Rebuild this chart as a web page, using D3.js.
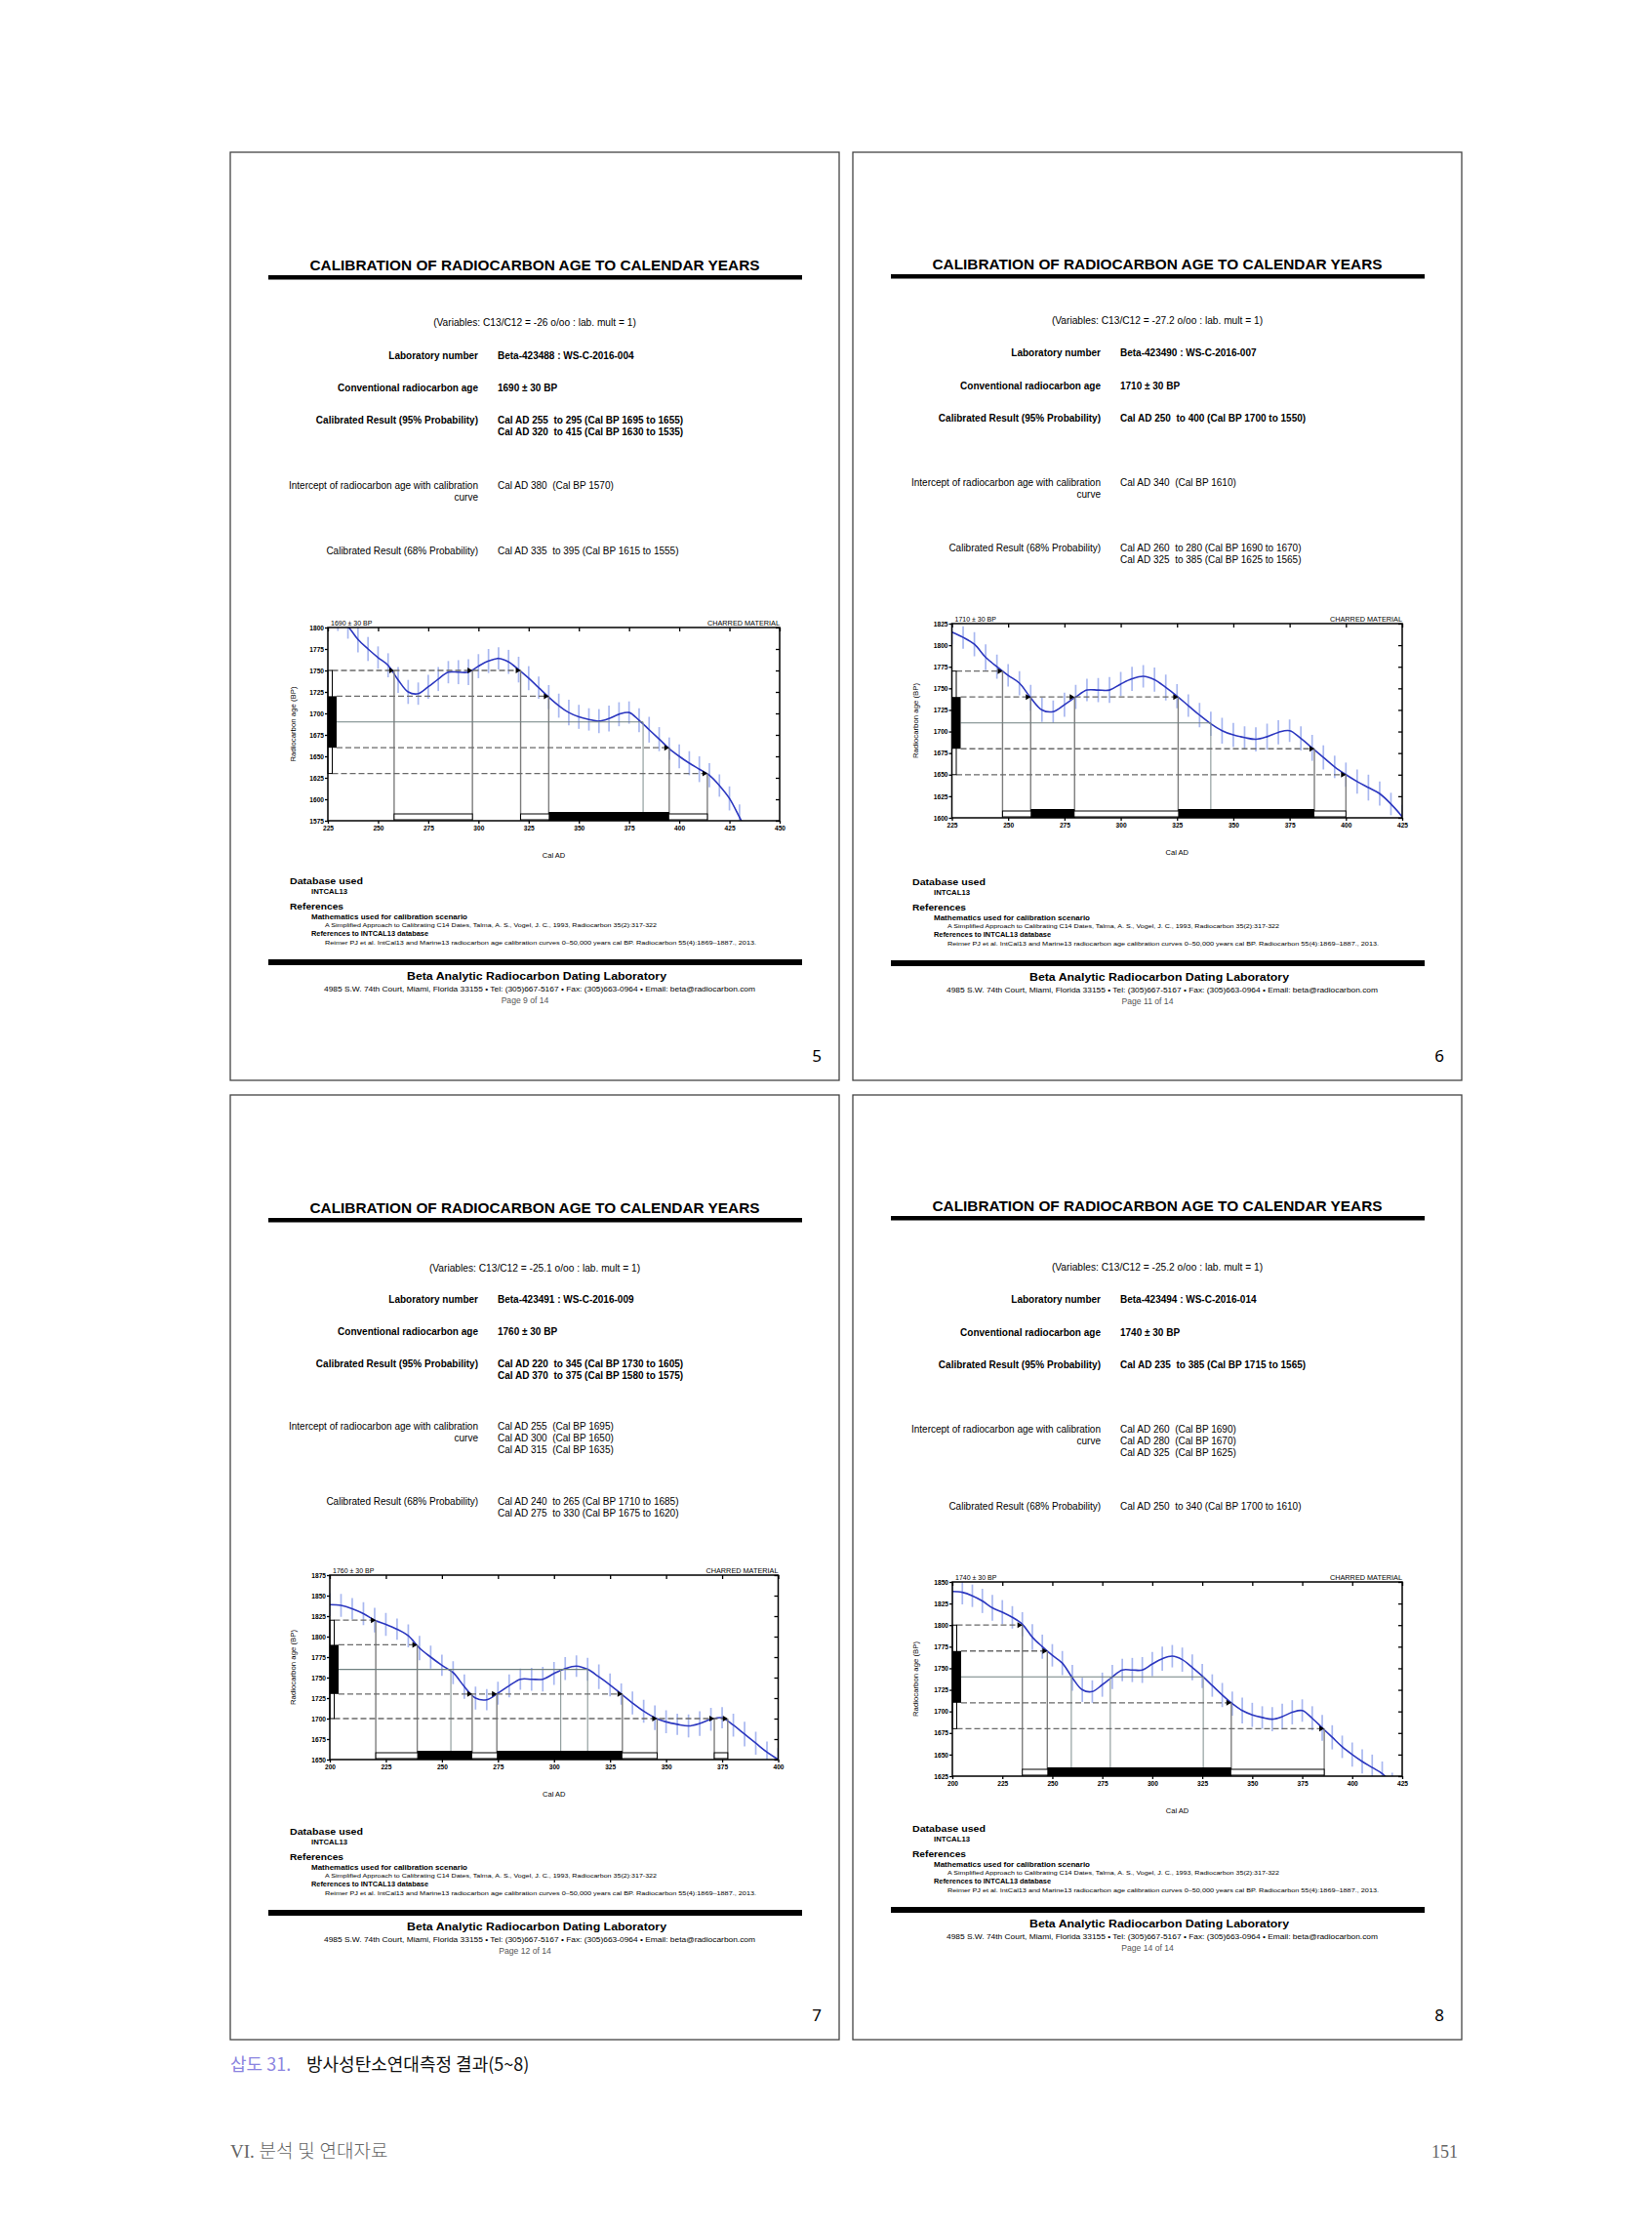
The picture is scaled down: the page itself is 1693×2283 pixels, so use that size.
<!DOCTYPE html>
<html><head><meta charset="utf-8">
<script src="https://cdn.jsdelivr.net/npm/d3@7"></script>
<style>
body{margin:0;background:#fff}
svg{display:block}
text{white-space:pre;font-family:'Liberation Sans',Arial,sans-serif}
</style>
</head><body>
<svg id="page" width="1693" height="2283"></svg>
<script>
// ---------- DATA ----------
// IntCal13 calibration curve (Cal AD -> radiocarbon age BP)
const curveYears = [200,205,210,215,220,225,230,235,240,245,250,255,260,265,270,275,280,285,290,295,300,305,310,315,320,325,330,335,340,345,350,355,360,365,370,375,380,385,390,395,400,405,410,415,420,425,430,435];
const curveBP    = [1839,1838,1834,1828,1820,1815,1809,1801,1786,1775,1765,1756,1739,1725,1723,1731,1740,1748,1748,1748,1755,1761,1764,1760,1751,1741,1730,1719,1709,1701,1696,1693,1691,1694,1699,1701,1692,1681,1670,1659,1650,1642,1635,1628,1616,1601,1579,1556];
const curveErr   = [14,14,13,14,15,14,13,14,15,14,13,14,15,14,13,14,14,13,14,15,14,14,13,14,15,14,13,14,14,15,14,13,14,15,14,13,14,15,14,13,14,14,15,14,13,14,15,14];

const panelNumbers = ["5","6","7","8"];
const pageLabels = ["Page 9 of 14","Page 11 of 14","Page 12 of 14","Page 14 of 14"];
const c13Ratios = ["-26","-27.2","-25.1","-25.2"];
const labNumbers = ["Beta-423488 : WS-C-2016-004","Beta-423490 : WS-C-2016-007","Beta-423491 : WS-C-2016-009","Beta-423494 : WS-C-2016-014"];
const conventionalAges = [1690,1710,1760,1740];
const ageSigmas = [30,30,30,30];
const cal95Lines = [
  ["Cal AD 255  to 295 (Cal BP 1695 to 1655)","Cal AD 320  to 415 (Cal BP 1630 to 1535)"],
  ["Cal AD 250  to 400 (Cal BP 1700 to 1550)"],
  ["Cal AD 220  to 345 (Cal BP 1730 to 1605)","Cal AD 370  to 375 (Cal BP 1580 to 1575)"],
  ["Cal AD 235  to 385 (Cal BP 1715 to 1565)"]
];
const interceptLines = [
  ["Cal AD 380  (Cal BP 1570)"],
  ["Cal AD 340  (Cal BP 1610)"],
  ["Cal AD 255  (Cal BP 1695)","Cal AD 300  (Cal BP 1650)","Cal AD 315  (Cal BP 1635)"],
  ["Cal AD 260  (Cal BP 1690)","Cal AD 280  (Cal BP 1670)","Cal AD 325  (Cal BP 1625)"]
];
const cal68Lines = [
  ["Cal AD 335  to 395 (Cal BP 1615 to 1555)"],
  ["Cal AD 260  to 280 (Cal BP 1690 to 1670)","Cal AD 325  to 385 (Cal BP 1625 to 1565)"],
  ["Cal AD 240  to 265 (Cal BP 1710 to 1685)","Cal AD 275  to 330 (Cal BP 1675 to 1620)"],
  ["Cal AD 250  to 340 (Cal BP 1700 to 1610)"]
];
const xDomains = [[225,450],[225,425],[200,400],[200,425]];
const yDomains = [[1575,1800],[1600,1825],[1650,1875],[1625,1850]];
const xTickLabels = [
  [225,250,275,300,325,350,375,400,425,450],
  [225,250,275,300,325,350,375,400,425],
  [200,225,250,275,300,325,350,375,400],
  [200,225,250,275,300,325,350,375,400,425]
];
const yTickLabels = [
  [1575,1600,1625,1650,1675,1700,1725,1750,1775,1800],
  [1600,1625,1650,1675,1700,1725,1750,1775,1800,1825],
  [1650,1675,1700,1725,1750,1775,1800,1825,1850,1875],
  [1625,1650,1675,1700,1725,1750,1775,1800,1825,1850]
];
// intercept years on the levels +2s, +1s, mean, -1s, -2s
const levelIntercepts = [
  [[258,297,321],[335],[382],[395],[414]],
  [[247.5],[260,279.5,325.5],[340],[386],[400]],
  [[220.5],[239],[254,303,315],[263.5,274.5,330.5],[346,371.5,377.5]],
  [[235],[247.5],[259.5,279,325.5],[339.5],[386]]
];
const range95 = [
  [[258,297],[321,414]],
  [[247.5,400]],
  [[220.5,346],[371.5,377.5]],
  [[235,386]]
];
const range68 = [
  [[335,395]],
  [[260,279.5],[325.5,386]],
  [[239,263.5],[274.5,330.5]],
  [[247.5,339.5]]
];
const refLines = [
  "Database used","INTCAL13","References","Mathematics used for calibration scenario",
  "A Simplified Approach to Calibrating C14 Dates, Talma, A. S., Vogel, J. C., 1993, Radiocarbon 35(2):317-322",
  "References to INTCAL13 database",
  "Reimer PJ et al. IntCal13 and Marine13 radiocarbon age calibration curves 0–50,000 years cal BP. Radiocarbon 55(4):1869–1887., 2013."
];
const labName = "Beta Analytic Radiocarbon Dating Laboratory";
const labAddress = "4985 S.W. 74th Court, Miami, Florida 33155 • Tel: (305)667-5167 • Fax: (305)663-0964 • Email: beta@radiocarbon.com";
const captionNo = "삽도 31.";
const captionText = "방사성탄소연대측정 결과(5~8)";
const footerLeft = "VI. 분석 및 연대자료";
const footerPage = "151";

// ---------- LAYOUT ----------
const panelBoxes = [{x:236,y:156,w:624,h:951},{x:874,y:156,w:624,h:951},{x:236,y:1122,w:624,h:968},{x:874,y:1122,w:624,h:968}];
const textRows = [
  {title:121,vars:178,lab:212,conv:245,c95:278,icpt:345,c68:412,rule:827},
  {title:120,vars:176,lab:209,conv:243,c95:276,icpt:342,c68:409,rule:828},
  {title:121,vars:181,lab:213,conv:246,c95:279,icpt:343,c68:420,rule:835},
  {title:119,vars:180,lab:213,conv:247,c95:280,icpt:346,c68:425,rule:832}
];
const plotRects = [
  {l:100,r:563,t:487,b:685},
  {l:101.5,r:563,t:483,b:682},
  {l:102,r:561.5,t:492,b:681},
  {l:102,r:563,t:499,b:698}
];

const svg = d3.select("#page");
svg.append("rect").attr("width",1693).attr("height",2283).attr("fill","#fff");

function txt(g,x,y,s,o){
  o=o||{};
  const t=g.append("text").attr("x",x).attr("y",y).text(s)
    .attr("font-size",o.size||10).attr("font-weight",o.bold?"bold":"normal")
    .attr("text-anchor",o.anchor||"start").attr("fill",o.fill||"#000");
  if(o.family) t.style("font-family",o.family);
  if(o.len) t.attr("textLength",o.len).attr("lengthAdjust","spacingAndGlyphs");
  return t;
}

panelBoxes.forEach((box,i)=>{
  const g = svg.append("g").attr("transform",`translate(${box.x},${box.y})`);
  g.append("rect").attr("width",box.w).attr("height",box.h).attr("fill","none").attr("stroke","#444").attr("stroke-width",1.3);
  const R = textRows[i];
  // title
  txt(g,312,R.title,"CALIBRATION OF RADIOCARBON AGE TO CALENDAR YEARS",{size:15.5,bold:true,anchor:"middle",len:461});
  g.append("rect").attr("x",39).attr("y",R.title+5).attr("width",547).attr("height",4.5).attr("fill","#000");
  txt(g,312,R.vars,`(Variables: C13/C12 = ${c13Ratios[i]} o/oo : lab. mult = 1)`,{size:10.2,anchor:"middle"});
  const LX=254, VX=274;
  txt(g,LX,R.lab,"Laboratory number",{size:10,bold:true,anchor:"end"});
  txt(g,VX,R.lab,labNumbers[i],{size:10,bold:true});
  txt(g,LX,R.conv,"Conventional radiocarbon age",{size:10,bold:true,anchor:"end"});
  txt(g,VX,R.conv,`${conventionalAges[i]} ± ${ageSigmas[i]} BP`,{size:10,bold:true});
  txt(g,LX,R.c95,"Calibrated Result (95% Probability)",{size:10,bold:true,anchor:"end"});
  cal95Lines[i].forEach((s,k)=>txt(g,VX,R.c95+k*12,s,{size:10,bold:true}));
  txt(g,LX,R.icpt,"Intercept of radiocarbon age with calibration",{size:10,anchor:"end"});
  txt(g,LX,R.icpt+12,"curve",{size:10,anchor:"end"});
  interceptLines[i].forEach((s,k)=>txt(g,VX,R.icpt+k*12,s,{size:10}));
  txt(g,LX,R.c68,"Calibrated Result (68% Probability)",{size:10,anchor:"end"});
  cal68Lines[i].forEach((s,k)=>txt(g,VX,R.c68+k*12,s,{size:10}));

  // ---- chart ----
  const pr = plotRects[i];
  const x = d3.scaleLinear().domain(xDomains[i]).range([pr.l,pr.r]);
  const y = d3.scaleLinear().domain(yDomains[i]).range([pr.b,pr.t]);
  const cid = "clip"+i;
  g.append("clipPath").attr("id",cid).append("rect").attr("x",pr.l).attr("y",pr.t).attr("width",pr.r-pr.l).attr("height",pr.b-pr.t);
  const pts = curveYears.map((yr,k)=>({yr, bp:curveBP[k], e:curveErr[k]}));
  const cg = g.append("g").attr("clip-path",`url(#${cid})`);
  cg.selectAll("line.err").data(pts).join("line").attr("class","err")
    .attr("x1",d=>x(d.yr)).attr("x2",d=>x(d.yr)).attr("y1",d=>y(d.bp-d.e)).attr("y2",d=>y(d.bp+d.e))
    .attr("stroke","#a9b8f0").attr("stroke-width",1.7);

  const age=conventionalAges[i], s=ageSigmas[i];
  const levels=[age+2*s,age+s,age,age-s,age-2*s];
  // vertical lines from intercepts
  levels.forEach((lv,j)=>{
    levelIntercepts[i][j].forEach(yr=>{
      g.append("line").attr("x1",x(yr)).attr("x2",x(yr)).attr("y1",y(lv)).attr("y2",pr.b)
        .attr("stroke",j===2?"#8a9898":"#7d7d7d").attr("stroke-width",j===2?1.1:1.4);
    });
  });
  // horizontal lines
  levels.forEach((lv,j)=>{
    const xe = x(d3.max(levelIntercepts[i][j]));
    const xs = (j===0||j===4)? pr.l+4.5 : pr.l+9;
    const ln = g.append("line").attr("x1",xs).attr("x2",xe).attr("y1",y(lv)).attr("y2",y(lv));
    if(j===2) ln.attr("stroke","#6f8080").attr("stroke-width",1.1);
    else ln.attr("stroke","#6a6a6a").attr("stroke-width",1.3).attr("stroke-dasharray","6,3");
  });
  // curve
  const line = d3.line().x(d=>x(d.yr)).y(d=>y(d.bp)).curve(d3.curveCatmullRom.alpha(0.5));
  cg.append("path").datum(pts).attr("d",line).attr("fill","none").attr("stroke","#2b36bf").attr("stroke-width",1.6);
  // markers
  levels.forEach((lv,j)=>{
    if(j===2) return;
    levelIntercepts[i][j].forEach(yr=>{
      const px=x(yr), py=y(lv);
      g.append("path").attr("d",`M${px-5},${py-3}L${px},${py}L${px-5},${py+3}Z`).attr("fill","#000");
    });
  });
  // left sigma bars
  g.append("rect").attr("x",pr.l).attr("y",y(age+2*s)).attr("width",4.5).attr("height",y(age-2*s)-y(age+2*s))
    .attr("fill","#fff").attr("stroke","#000").attr("stroke-width",1);
  g.append("rect").attr("x",pr.l).attr("y",y(age+s)).attr("width",9).attr("height",y(age-s)-y(age+s)).attr("fill","#000");
  // bottom probability ranges
  range95[i].forEach(r=>{
    g.append("rect").attr("x",x(r[0])).attr("y",pr.b-7).attr("width",x(r[1])-x(r[0])).attr("height",6)
      .attr("fill","#fff").attr("stroke","#000").attr("stroke-width",1);
  });
  range68[i].forEach(r=>{
    g.append("rect").attr("x",x(r[0])).attr("y",pr.b-9).attr("width",x(r[1])-x(r[0])).attr("height",9).attr("fill","#000");
  });
  // axes
  const styleAxis = a=>{ a.select(".domain").remove(); a.selectAll(".tick line").attr("stroke","#000").attr("stroke-width",1.3);
    a.selectAll("text").attr("font-size",6.6).attr("font-weight","bold").attr("fill","#000").style("font-family","'Liberation Sans',Arial,sans-serif"); };
  g.append("g").attr("transform",`translate(${pr.l},0)`).call(d3.axisLeft(y).tickValues(yTickLabels[i]).tickSize(3).tickPadding(1).tickFormat(d3.format("d"))).call(styleAxis);
  g.append("g").attr("transform",`translate(0,${pr.b})`).call(d3.axisBottom(x).tickValues(xTickLabels[i]).tickSize(3).tickPadding(2).tickFormat(d3.format("d"))).call(styleAxis);
  g.append("g").attr("transform",`translate(0,${pr.t})`).call(d3.axisBottom(x).tickValues(xTickLabels[i]).tickSize(4).tickFormat("")).call(styleAxis);
  g.append("g").attr("transform",`translate(${pr.r},0)`).call(d3.axisLeft(y).tickValues(yTickLabels[i]).tickSize(4).tickFormat("")).call(styleAxis);
  g.append("rect").attr("x",pr.l).attr("y",pr.t).attr("width",pr.r-pr.l).attr("height",pr.b-pr.t)
    .attr("fill","none").attr("stroke","#000").attr("stroke-width",1.5);
  txt(g,pr.l+3,pr.t-2,`${age} ± ${s} BP`,{size:7});
  txt(g,pr.r,pr.t-2,"CHARRED MATERIAL",{size:7.3,anchor:"end"});
  txt(g,0,0,"Radiocarbon age (BP)",{size:7.8,anchor:"middle"}).attr("transform",`translate(67,${(pr.t+pr.b)/2}) rotate(-90)`);
  txt(g,(pr.l+pr.r)/2,pr.b+38,"Cal AD",{size:7.5,anchor:"middle"});

  // references block
  const rl = R.rule;
  txt(g,61,rl-77,refLines[0],{size:9.8,bold:true,len:75});
  txt(g,83,rl-67,refLines[1],{size:7.5,bold:true,len:37});
  txt(g,61,rl-51,refLines[2],{size:9.8,bold:true,len:55});
  txt(g,83,rl-41,refLines[3],{size:8,bold:true,len:160});
  txt(g,97,rl-33,refLines[4],{size:6.2,len:340});
  txt(g,83,rl-24,refLines[5],{size:8,bold:true,len:120});
  txt(g,97,rl-15,refLines[6],{size:6.2,len:442});
  g.append("rect").attr("x",39).attr("y",rl).attr("width",547).attr("height",6).attr("fill","#000");
  txt(g,314,rl+21,labName,{size:11,bold:true,anchor:"middle",len:266});
  txt(g,317,rl+33,labAddress,{size:6.6,anchor:"middle",len:442});
  txt(g,302,rl+45,pageLabels[i],{size:8.6,anchor:"middle",fill:"#555"});
  txt(g,box.w-23,box.h-19,panelNumbers[i],{size:17,anchor:"middle",family:"'Noto Sans',sans-serif"});
});

// caption and page footer
txt(svg,236,2122,captionNo,{size:18,fill:"#8c85e0",family:"'Noto Sans CJK KR','Noto Sans',sans-serif"});
txt(svg,314,2122,captionText,{size:18,fill:"#111",family:"'Noto Sans CJK KR','Noto Sans',sans-serif"});
const fl = svg.append("text").attr("x",236).attr("y",2211).attr("font-size",19).attr("fill","#666")
  .style("font-family","'Liberation Serif','DejaVu Serif','Noto Sans CJK KR',serif").style("font-weight",300);
fl.text(footerLeft);
txt(svg,1494,2211,footerPage,{size:18,anchor:"end",fill:"#666",family:"'Liberation Serif','DejaVu Serif',serif"});
</script>
</body></html>
